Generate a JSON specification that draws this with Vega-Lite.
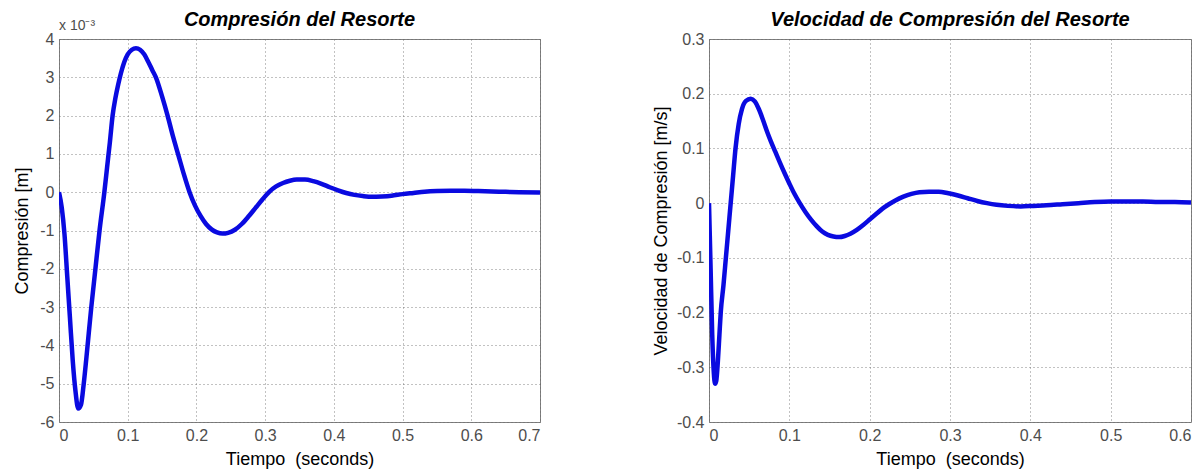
{
  "$schema": "https://vega.github.io/schema/vega-lite/v6.json",
  "background": "white",
  "padding": {"left": 13, "top": 9, "right": 0, "bottom": 0},
  "bounds": "flush",
  "spacing": 169,
  "config": {
    "font": "Liberation Sans",
    "view": {"stroke": "#808080", "strokeWidth": 1},
    "axis": {
      "grid": true,
      "gridColor": "#666666",
      "gridDash": [1, 3],
      "gridOpacity": 0.8,
      "gridWidth": 1,
      "ticks": false,
      "domain": false,
      "labelOverlap": false,
      "labelFont": "Liberation Sans",
      "labelFontSize": 16,
      "labelColor": "#4d4d4d",
      "labelPadding": 5,
      "titleFont": "Liberation Sans",
      "titleFontSize": 18,
      "titleFontWeight": "normal",
      "titleColor": "#000000"
    },
    "title": {"font": "Liberation Sans", "fontSize": 20, "fontWeight": "bold", "fontStyle": "italic", "color": "#000000", "frame": "group"}
  },
  "datasets": {
    "comp": [
      {"t": 0, "x": 0},
      {"t": 0.004, "x": -0.0004},
      {"t": 0.008, "x": -0.0011},
      {"t": 0.012, "x": -0.0022},
      {"t": 0.016, "x": -0.0033},
      {"t": 0.020, "x": -0.0044},
      {"t": 0.024, "x": -0.0052},
      {"t": 0.028, "x": -0.00565},
      {"t": 0.032, "x": -0.00555},
      {"t": 0.036, "x": -0.0050},
      {"t": 0.040, "x": -0.0043},
      {"t": 0.047, "x": -0.0030},
      {"t": 0.053, "x": -0.0020},
      {"t": 0.059, "x": -0.0010},
      {"t": 0.066, "x": 0},
      {"t": 0.070, "x": 0.00065},
      {"t": 0.074, "x": 0.0013},
      {"t": 0.078, "x": 0.0020},
      {"t": 0.082, "x": 0.00245},
      {"t": 0.086, "x": 0.0028},
      {"t": 0.090, "x": 0.0031},
      {"t": 0.095, "x": 0.0034},
      {"t": 0.100, "x": 0.0036},
      {"t": 0.106, "x": 0.00372},
      {"t": 0.112, "x": 0.00376},
      {"t": 0.118, "x": 0.00372},
      {"t": 0.124, "x": 0.0036},
      {"t": 0.130, "x": 0.0034},
      {"t": 0.136, "x": 0.00318},
      {"t": 0.141, "x": 0.0030},
      {"t": 0.150, "x": 0.0025},
      {"t": 0.158, "x": 0.0020},
      {"t": 0.166, "x": 0.00145},
      {"t": 0.174, "x": 0.00095},
      {"t": 0.182, "x": 0.00045},
      {"t": 0.190, "x": 0},
      {"t": 0.198, "x": -0.00035},
      {"t": 0.206, "x": -0.00062},
      {"t": 0.214, "x": -0.00083},
      {"t": 0.222, "x": -0.00097},
      {"t": 0.230, "x": -0.00105},
      {"t": 0.238, "x": -0.00108},
      {"t": 0.246, "x": -0.00106},
      {"t": 0.256, "x": -0.00098},
      {"t": 0.266, "x": -0.00083},
      {"t": 0.276, "x": -0.00063},
      {"t": 0.286, "x": -0.00041},
      {"t": 0.296, "x": -0.00019},
      {"t": 0.306, "x": 0.00001},
      {"t": 0.316, "x": 0.00015},
      {"t": 0.326, "x": 0.00024},
      {"t": 0.336, "x": 0.00030},
      {"t": 0.346, "x": 0.00033},
      {"t": 0.358, "x": 0.00033},
      {"t": 0.370, "x": 0.00029},
      {"t": 0.382, "x": 0.00022},
      {"t": 0.394, "x": 0.00013},
      {"t": 0.406, "x": 0.00005},
      {"t": 0.418, "x": -0.00002},
      {"t": 0.430, "x": -0.00007},
      {"t": 0.442, "x": -0.00010},
      {"t": 0.456, "x": -0.00012},
      {"t": 0.470, "x": -0.00011},
      {"t": 0.484, "x": -0.00009},
      {"t": 0.500, "x": -0.00005},
      {"t": 0.516, "x": -0.00002},
      {"t": 0.532, "x": 0.00001},
      {"t": 0.550, "x": 0.00003},
      {"t": 0.570, "x": 0.00004},
      {"t": 0.590, "x": 0.00004},
      {"t": 0.610, "x": 0.00003},
      {"t": 0.630, "x": 0.00002},
      {"t": 0.650, "x": 0.00001},
      {"t": 0.670, "x": 0.0},
      {"t": 0.700, "x": -0.00001}
    ],
    "vel": [
      {"t": 0, "v": 0},
      {"t": 0.002, "v": -0.12},
      {"t": 0.004, "v": -0.24},
      {"t": 0.006, "v": -0.31},
      {"t": 0.0075, "v": -0.33},
      {"t": 0.009, "v": -0.325},
      {"t": 0.011, "v": -0.29},
      {"t": 0.013, "v": -0.24},
      {"t": 0.0146, "v": -0.2},
      {"t": 0.018, "v": -0.15},
      {"t": 0.021, "v": -0.1},
      {"t": 0.024, "v": -0.05},
      {"t": 0.027, "v": 0.0},
      {"t": 0.030, "v": 0.05},
      {"t": 0.033, "v": 0.10},
      {"t": 0.037, "v": 0.145},
      {"t": 0.041, "v": 0.172},
      {"t": 0.046, "v": 0.187},
      {"t": 0.052, "v": 0.191},
      {"t": 0.057, "v": 0.186},
      {"t": 0.062, "v": 0.172},
      {"t": 0.067, "v": 0.153},
      {"t": 0.072, "v": 0.132},
      {"t": 0.077, "v": 0.113},
      {"t": 0.0825, "v": 0.094},
      {"t": 0.088, "v": 0.075},
      {"t": 0.094, "v": 0.055},
      {"t": 0.100, "v": 0.036},
      {"t": 0.106, "v": 0.018},
      {"t": 0.113, "v": 0.0},
      {"t": 0.120, "v": -0.016},
      {"t": 0.127, "v": -0.030},
      {"t": 0.134, "v": -0.042},
      {"t": 0.141, "v": -0.052},
      {"t": 0.148, "v": -0.058},
      {"t": 0.155, "v": -0.061},
      {"t": 0.162, "v": -0.062},
      {"t": 0.169, "v": -0.060},
      {"t": 0.176, "v": -0.056},
      {"t": 0.184, "v": -0.049},
      {"t": 0.192, "v": -0.040},
      {"t": 0.200, "v": -0.030},
      {"t": 0.208, "v": -0.020},
      {"t": 0.216, "v": -0.010},
      {"t": 0.224, "v": -0.002},
      {"t": 0.232, "v": 0.005},
      {"t": 0.242, "v": 0.012},
      {"t": 0.252, "v": 0.017},
      {"t": 0.262, "v": 0.020},
      {"t": 0.274, "v": 0.021},
      {"t": 0.286, "v": 0.021},
      {"t": 0.298, "v": 0.018},
      {"t": 0.310, "v": 0.014},
      {"t": 0.322, "v": 0.009},
      {"t": 0.334, "v": 0.004},
      {"t": 0.346, "v": 0.0},
      {"t": 0.358, "v": -0.003},
      {"t": 0.372, "v": -0.005},
      {"t": 0.388, "v": -0.006},
      {"t": 0.404, "v": -0.005},
      {"t": 0.420, "v": -0.004},
      {"t": 0.440, "v": -0.002},
      {"t": 0.460, "v": 0.0},
      {"t": 0.480, "v": 0.002},
      {"t": 0.500, "v": 0.003},
      {"t": 0.520, "v": 0.003},
      {"t": 0.540, "v": 0.003},
      {"t": 0.560, "v": 0.002},
      {"t": 0.580, "v": 0.002},
      {"t": 0.600, "v": 0.001}
    ],
    "exp": [{"t": 0, "x": 0.004, "label": "x 10⁻³"}]
  },
  "hconcat": [
    {
      "width": 481,
      "height": 383,
      "title": {"text": "Compresión del Resorte", "offset": -11},
      "layer": [
        {
          "data": {"name": "comp"},
          "mark": {"type": "line", "color": "#0a0ae0", "strokeWidth": 0, "opacity": 0, "clip": true},
          "encoding": {
            "x": {"field": "t", "type": "quantitative", "scale": {"domain": [0, 0.7], "nice": false},
                  "axis": {"title": "Tiempo \u00a0(seconds)", "values": [0, 0.1, 0.2, 0.3, 0.4, 0.5, 0.6, 0.7], "tickCount": 20, "labelExpr": "'' + round(datum.value*10)/10", "titlePadding": 7, "labelOverlap": false}},
            "y": {"field": "x", "type": "quantitative", "scale": {"domain": [-0.006, 0.004], "nice": false},
                  "axis": {"title": "Compresión [m]", "values": [-0.006, -0.005, -0.004, -0.003, -0.002, -0.001, 0, 0.001, 0.002, 0.003, 0.004], "tickCount": 20, "labelExpr": "'' + round(datum.value*1000)", "titlePadding": 8, "labelOverlap": false}}
          }
        },
        {
          "mark": {"type": "rule", "color": "#333333", "strokeDash": [1, 2], "strokeWidth": 1},
          "encoding": {"y": {"datum": 0, "type": "quantitative",
                  "axis": {"title": "Compresión [m]", "values": [-0.006, -0.005, -0.004, -0.003, -0.002, -0.001, 0, 0.001, 0.002, 0.003, 0.004], "tickCount": 20, "labelExpr": "'' + round(datum.value*1000)", "titlePadding": 8, "labelOverlap": false}}}
        },
        {
          "data": {"name": "comp"},
          "mark": {"type": "line", "color": "#0a0ae0", "strokeWidth": 4.5, "interpolate": "monotone", "clip": true},
          "encoding": {
            "x": {"field": "t", "type": "quantitative"},
            "y": {"field": "x", "type": "quantitative"}
          }
        },
        {
          "data": {"name": "exp"},
          "mark": {"type": "text", "align": "left", "baseline": "middle", "dy": -13, "fontSize": 14, "color": "#4d4d4d", "font": "Liberation Sans"},
          "encoding": {
            "x": {"field": "t", "type": "quantitative"},
            "y": {"field": "x", "type": "quantitative",
                  "axis": {"title": "Compresión [m]", "values": [-0.006, -0.005, -0.004, -0.003, -0.002, -0.001, 0, 0.001, 0.002, 0.003, 0.004], "tickCount": 20, "labelExpr": "'' + round(datum.value*1000)", "titlePadding": 8, "labelOverlap": false}},
            "text": {"field": "label"}
          }
        }
      ]
    },
    {
      "width": 482,
      "height": 383,
      "title": {"text": "Velocidad de Compresión del Resorte", "offset": 1},
      "layer": [
        {
          "data": {"name": "vel"},
          "mark": {"type": "line", "color": "#0a0ae0", "strokeWidth": 0, "opacity": 0, "clip": true},
          "encoding": {
            "x": {"field": "t", "type": "quantitative", "scale": {"domain": [0, 0.6], "nice": false},
                  "axis": {"title": "Tiempo \u00a0(seconds)", "values": [0, 0.1, 0.2, 0.3, 0.4, 0.5, 0.6], "tickCount": 20, "labelExpr": "'' + round(datum.value*10)/10", "titlePadding": 7, "labelOverlap": false}},
            "y": {"field": "v", "type": "quantitative", "scale": {"domain": [-0.4, 0.3], "nice": false},
                  "axis": {"title": "Velocidad de Compresión [m/s]", "values": [-0.4, -0.3, -0.2, -0.1, 0, 0.1, 0.2, 0.3], "tickCount": 20, "labelExpr": "'' + round(datum.value*10)/10", "titlePadding": 6, "labelOverlap": false}}
          }
        },
        {
          "mark": {"type": "rule", "color": "#333333", "strokeDash": [1, 2], "strokeWidth": 1},
          "encoding": {"y": {"datum": 0, "type": "quantitative",
                  "axis": {"title": "Velocidad de Compresión [m/s]", "values": [-0.4, -0.3, -0.2, -0.1, 0, 0.1, 0.2, 0.3], "tickCount": 20, "labelExpr": "'' + round(datum.value*10)/10", "titlePadding": 6, "labelOverlap": false}}}
        },
        {
          "data": {"name": "vel"},
          "mark": {"type": "line", "color": "#0a0ae0", "strokeWidth": 4.5, "interpolate": "monotone", "clip": true},
          "encoding": {
            "x": {"field": "t", "type": "quantitative"},
            "y": {"field": "v", "type": "quantitative"}
          }
        }
      ]
    }
  ]
}
